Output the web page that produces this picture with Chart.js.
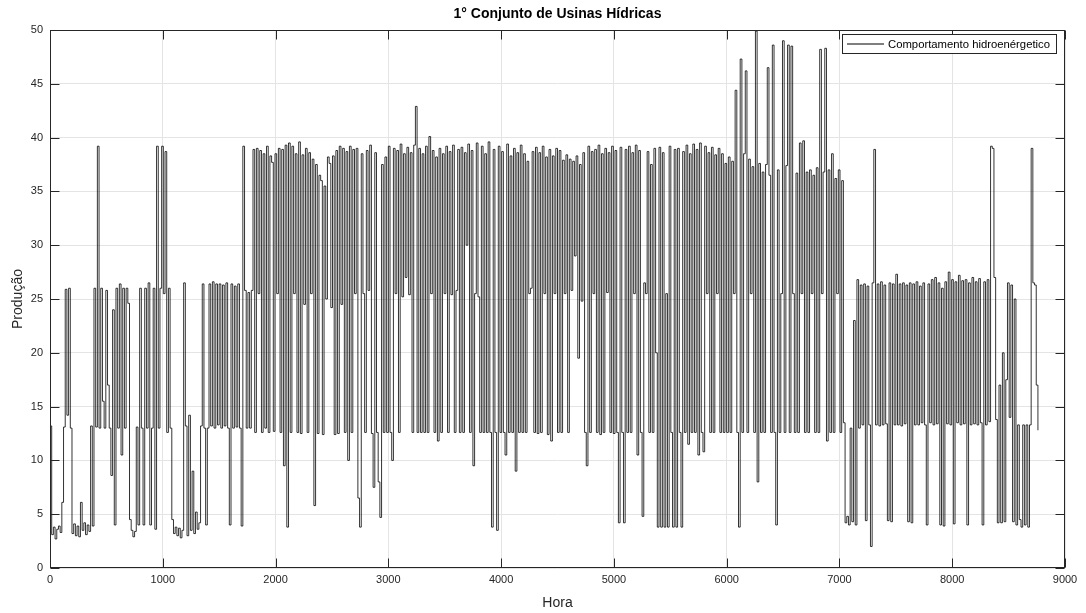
<!DOCTYPE html>
<html lang="pt-BR">
<head>
<meta charset="utf-8">
<title>1° Conjunto de Usinas Hídricas</title>
<script src="https://cdn.jsdelivr.net/npm/chart.js@4.4.1/dist/chart.umd.min.js"></script>
<style>
  html, body { margin: 0; padding: 0; background: #fff; }
  #wrap { width: 1086px; height: 613px; }
</style>
</head>
<body>
<div id="wrap"><canvas id="grafico" width="1086" height="613"></canvas></div>
<script>
// Produção horária do conjunto (amostrada a cada 15 h)
const PASSO = 15;
const producao = [
  13.2, 3.1, 3.8, 2.7, 3.6, 3.9, 3.3, 6.1, 13.1, 25.9, 14.2, 26, 13.0, 3.2, 4.1, 3.0, 3.9, 2.9, 6.1, 3.5,
  4.2, 3.1, 4.0, 3.4, 13.2, 3.9, 26, 13.1, 39.2, 13, 26, 15.5, 13, 25.8, 17, 13, 8.6, 24, 4, 26,
  13, 26.4, 10.5, 26, 13, 26, 24.6, 4.5, 3.5, 2.9, 3.4, 13.1, 4, 26, 13, 4, 26, 13, 26.5, 4,
  13, 26, 3.6, 39.2, 13, 26, 39.2, 25.5, 38.7, 12.6, 26, 13, 4.5, 3.2, 3.8, 3, 3.7, 2.8, 3.5, 26.5,
  13.2, 3, 14.2, 3.5, 9, 3.2, 5.2, 3.6, 4.2, 13.2, 26.4, 13, 4, 13, 26.4, 13.2, 26.6, 13, 26.4, 13.3,
  26.4, 13, 26.3, 13.2, 26.5, 13, 4, 26.4, 13, 26.2, 13.1, 26.4, 13, 3.9, 39.2, 25.8, 13, 25.6, 13, 25.8,
  38.9, 12.6, 39, 25.5, 38.8, 12.6, 38.5, 13, 39.2, 12.6, 38.3, 37.7, 12.7, 38.5, 25.5, 39, 12.6, 38.9, 9.5, 39.3,
  3.8, 39.5, 12.6, 39.2, 25.5, 38.5, 12.6, 39.6, 12.5, 38.4, 24.5, 39, 12.6, 38.6, 25.5, 38, 5.8, 37.5, 12.5, 36.5,
  36, 12.4, 35.5, 25, 38.2, 37.6, 24.2, 38.3, 12.4, 38.8, 12.5, 39.2, 24.5, 39, 12.6, 38.7, 10, 39.2, 12.6, 38.9,
  25.5, 39, 6.5, 3.8, 38.5, 25.5, 12.6, 38.8, 25.8, 39.3, 12.5, 7.5, 38.6, 12.6, 8, 4.7, 37.5, 12.6, 38.2, 12.6,
  39.2, 12.6, 10, 39, 25.5, 38.8, 12.6, 39.4, 25.2, 38.5, 27, 39.1, 25.4, 38.6, 12.6, 39.3, 42.9, 12.6, 39, 12.6,
  38.5, 12.6, 39.2, 12.6, 40.1, 25.5, 38.8, 12.6, 38.2, 11.8, 39, 12.6, 38.5, 25.5, 39.2, 12.6, 38.7, 25.4, 39.3, 12.6,
  25.8, 38.9, 12.6, 39.1, 12.6, 38.6, 30, 39.4, 12.6, 38.8, 9.5, 25.5, 39.5, 25.2, 12.6, 39.2, 12.6, 38.5, 12.6, 39.6,
  12.6, 3.8, 38.9, 12.6, 3.5, 39.2, 12.6, 38.7, 12.6, 10.5, 39.4, 12.6, 38.3, 12.6, 39, 9, 38.6, 12.6, 39.3, 12.6,
  38.5, 12.6, 37.8, 25.5, 26, 38.7, 12.6, 39.1, 12.5, 38.6, 12.6, 39.2, 25.5, 38.2, 12.4, 38.9, 11.8, 38.3, 25.5, 39,
  12.6, 38.8, 12.6, 37.9, 25.5, 38.4, 12.6, 38, 25.8, 37.8, 29, 38.3, 19.5, 37.5, 24.8, 38.6, 12.6, 9.5, 39.2, 12.6,
  38.7, 25.5, 38.9, 12.6, 39.3, 12.4, 38.5, 12.6, 39, 25.6, 38.6, 12.6, 39.2, 12.5, 38.8, 12.6, 4.2, 39.1, 12.6, 4.2,
  38.9, 12.6, 39.2, 12.6, 38.6, 25.5, 39.3, 10.5, 38.8, 12.6, 4.8, 26.5, 25.5, 38.7, 12.6, 37.5, 12.6, 39, 20, 3.8,
  39.1, 3.8, 38.6, 3.8, 25.5, 3.8, 39.2, 12.6, 3.8, 38.9, 3.8, 39, 12.6, 3.8, 38.7, 12.6, 39.3, 11.5, 38.5, 12.6,
  39.4, 12.6, 38.9, 10.5, 39.5, 12.6, 10.8, 39.2, 25.5, 38.6, 12.6, 39.1, 12.6, 38.4, 25.5, 39, 12.6, 38.5, 12.6, 37.6,
  12.6, 38.2, 12.6, 37.8, 25.5, 44.4, 12.6, 3.8, 47.3, 12.6, 38.5, 46.2, 12.6, 38, 25.5, 37.3, 12.6, 49.9, 8, 37.6,
  12.6, 36.8, 12.6, 37.5, 46.5, 36.5, 12.6, 48.6, 12.6, 4, 37, 12.6, 25.5, 49, 12.6, 37.4, 48.6, 12.6, 48.5, 25.5,
  12.6, 36.7, 12.6, 39.5, 25.5, 39.7, 12.6, 36.8, 12.6, 37, 25.5, 36.5, 12.6, 37.2, 12.6, 48.2, 25.5, 36.8, 48.3, 11.8,
  37, 12.6, 38.5, 12.6, 36.2, 25.5, 37, 12.6, 36, 13.5, 4.2, 4.8, 4, 13, 4.3, 23, 4, 26.8, 13, 26.3,
  13.3, 26.4, 4.4, 26.2, 13.3, 2, 26.5, 38.9, 13.3, 26.4, 13.2, 26.6, 13.3, 26.3, 13.4, 4.4, 26.5, 4.3, 26.4, 13.3,
  27.3, 13.3, 26.4, 13.2, 26.5, 13.4, 26.3, 4.3, 26.5, 4.2, 26.4, 13.3, 26.6, 13.3, 26.2, 13.5, 26.5, 13.3, 4, 26.4,
  13.5, 26.8, 13.3, 27, 13.4, 26.5, 4, 26, 3.9, 26.6, 13.4, 27.5, 13.3, 26.8, 4.1, 26.6, 13.5, 27.2, 13.3, 26.7,
  13.4, 26.8, 4, 26.5, 13.3, 27, 13.4, 26.6, 13.3, 26.9, 13.5, 4, 26.6, 13.3, 26.8, 13.6, 39.2, 39, 27, 13.8,
  4.2, 17, 4.2, 20, 4.3, 17.5, 26.5, 14, 26.3, 4.3, 25, 4, 13.3, 4.5, 3.8, 13.3, 4, 13.3, 3.8, 13.3,
  39, 26.5, 26.3, 17, 12.8
];
const horas = producao.map((_, i) => i * PASSO);

const ticksHora = [0, 1000, 2000, 3000, 4000, 5000, 6000, 7000, 8000, 9000];
const ticksProducao = [0, 5, 10, 15, 20, 25, 30, 35, 40, 45, 50];

const titulo = '1° Conjunto de Usinas Hídricas';
const nomeSerie = 'Comportamento hidroenérgetico';

const FONTE = "'Liberation Sans', Arial, Helvetica, sans-serif";
const COR_TEXTO = '#262626';
const COR_GRADE = '#e4e4e4';

// caixa dos eixos, marcas internas, título e legenda no estilo MATLAB
const molduraPlugin = {
  id: 'moldura',
  afterDraw(chart) {
    const { ctx, chartArea: a, scales } = chart;
    const sx = scales.x, sy = scales.y;
    const L = Math.round(a.left) + 0.5, R = Math.round(a.right) - 0.5;
    const T = Math.round(a.top) + 0.5, B = Math.round(a.bottom) - 0.5;
    ctx.save();
    ctx.strokeStyle = COR_TEXTO;
    ctx.lineWidth = 1;
    ctx.beginPath();
    const tam = 9;
    ticksHora.forEach(v => {
      const px = Math.round(sx.getPixelForValue(v)) + 0.5;
      ctx.moveTo(px, B); ctx.lineTo(px, B - tam);
      ctx.moveTo(px, T); ctx.lineTo(px, T + tam);
    });
    ticksProducao.forEach(v => {
      const py = Math.round(sy.getPixelForValue(v)) + 0.5;
      ctx.moveTo(L, py); ctx.lineTo(L + tam, py);
      ctx.moveTo(R, py); ctx.lineTo(R - tam, py);
    });
    ctx.stroke();
    ctx.strokeRect(L, T, R - L, B - T);

    // título
    ctx.fillStyle = '#000';
    ctx.font = 'bold 14px ' + FONTE;
    ctx.textAlign = 'center';
    ctx.textBaseline = 'middle';
    ctx.fillText(titulo, (a.left + a.right) / 2, 14);

    // legenda
    const lx = 842.5, ly = 34.5, lw = 214, lh = 19;
    ctx.fillStyle = '#fff';
    ctx.fillRect(lx, ly, lw, lh);
    ctx.strokeStyle = COR_TEXTO;
    ctx.strokeRect(lx, ly, lw, lh);
    ctx.strokeStyle = '#000';
    ctx.beginPath();
    ctx.moveTo(847, ly + lh / 2);
    ctx.lineTo(884, ly + lh / 2);
    ctx.stroke();
    ctx.fillStyle = '#000';
    ctx.font = '11.3px ' + FONTE;
    ctx.textAlign = 'left';
    ctx.fillText(nomeSerie, 888, ly + lh / 2 + 0.5);
    ctx.restore();
  }
};

new Chart(document.getElementById('grafico').getContext('2d'), {
  type: 'line',
  data: {
    datasets: [{
      label: nomeSerie,
      data: producao.map((v, i) => ({ x: horas[i], y: v })),
      borderColor: 'rgba(0, 0, 0, 0.8)',
      borderWidth: 1,
      pointRadius: 0,
      stepped: true,
      fill: false
    }]
  },
  options: {
    responsive: false,
    animation: false,
    layout: { padding: { top: 30, right: 21, left: 0, bottom: 0 } },
    plugins: {
      legend: { display: false },
      title: { display: false },
      tooltip: { enabled: false }
    },
    scales: {
      x: {
        type: 'linear',
        min: 0,
        max: 9000,
        afterBuildTicks: s => { s.ticks = ticksHora.map(v => ({ value: v })); },
        afterFit: s => { s.height = 45; },
        grid: { color: COR_GRADE, drawTicks: false },
        border: { display: false },
        ticks: { color: COR_TEXTO, font: { family: FONTE, size: 11 }, padding: 5, maxRotation: 0, callback: v => String(v) },
        title: { display: true, text: 'Hora', color: COR_TEXTO, font: { family: FONTE, size: 14 }, padding: { top: 0, bottom: 1 } }
      },
      y: {
        min: 0,
        max: 50,
        afterBuildTicks: s => { s.ticks = ticksProducao.map(v => ({ value: v })); },
        afterFit: s => { s.width = 50; },
        grid: { color: COR_GRADE, drawTicks: false },
        border: { display: false },
        ticks: { color: COR_TEXTO, font: { family: FONTE, size: 11 }, padding: 7, callback: v => String(v) },
        title: { display: true, text: 'Produção', color: COR_TEXTO, font: { family: FONTE, size: 14 }, padding: { top: 10, bottom: 0 } }
      }
    }
  },
  plugins: [molduraPlugin]
});
</script>
</body>
</html>
